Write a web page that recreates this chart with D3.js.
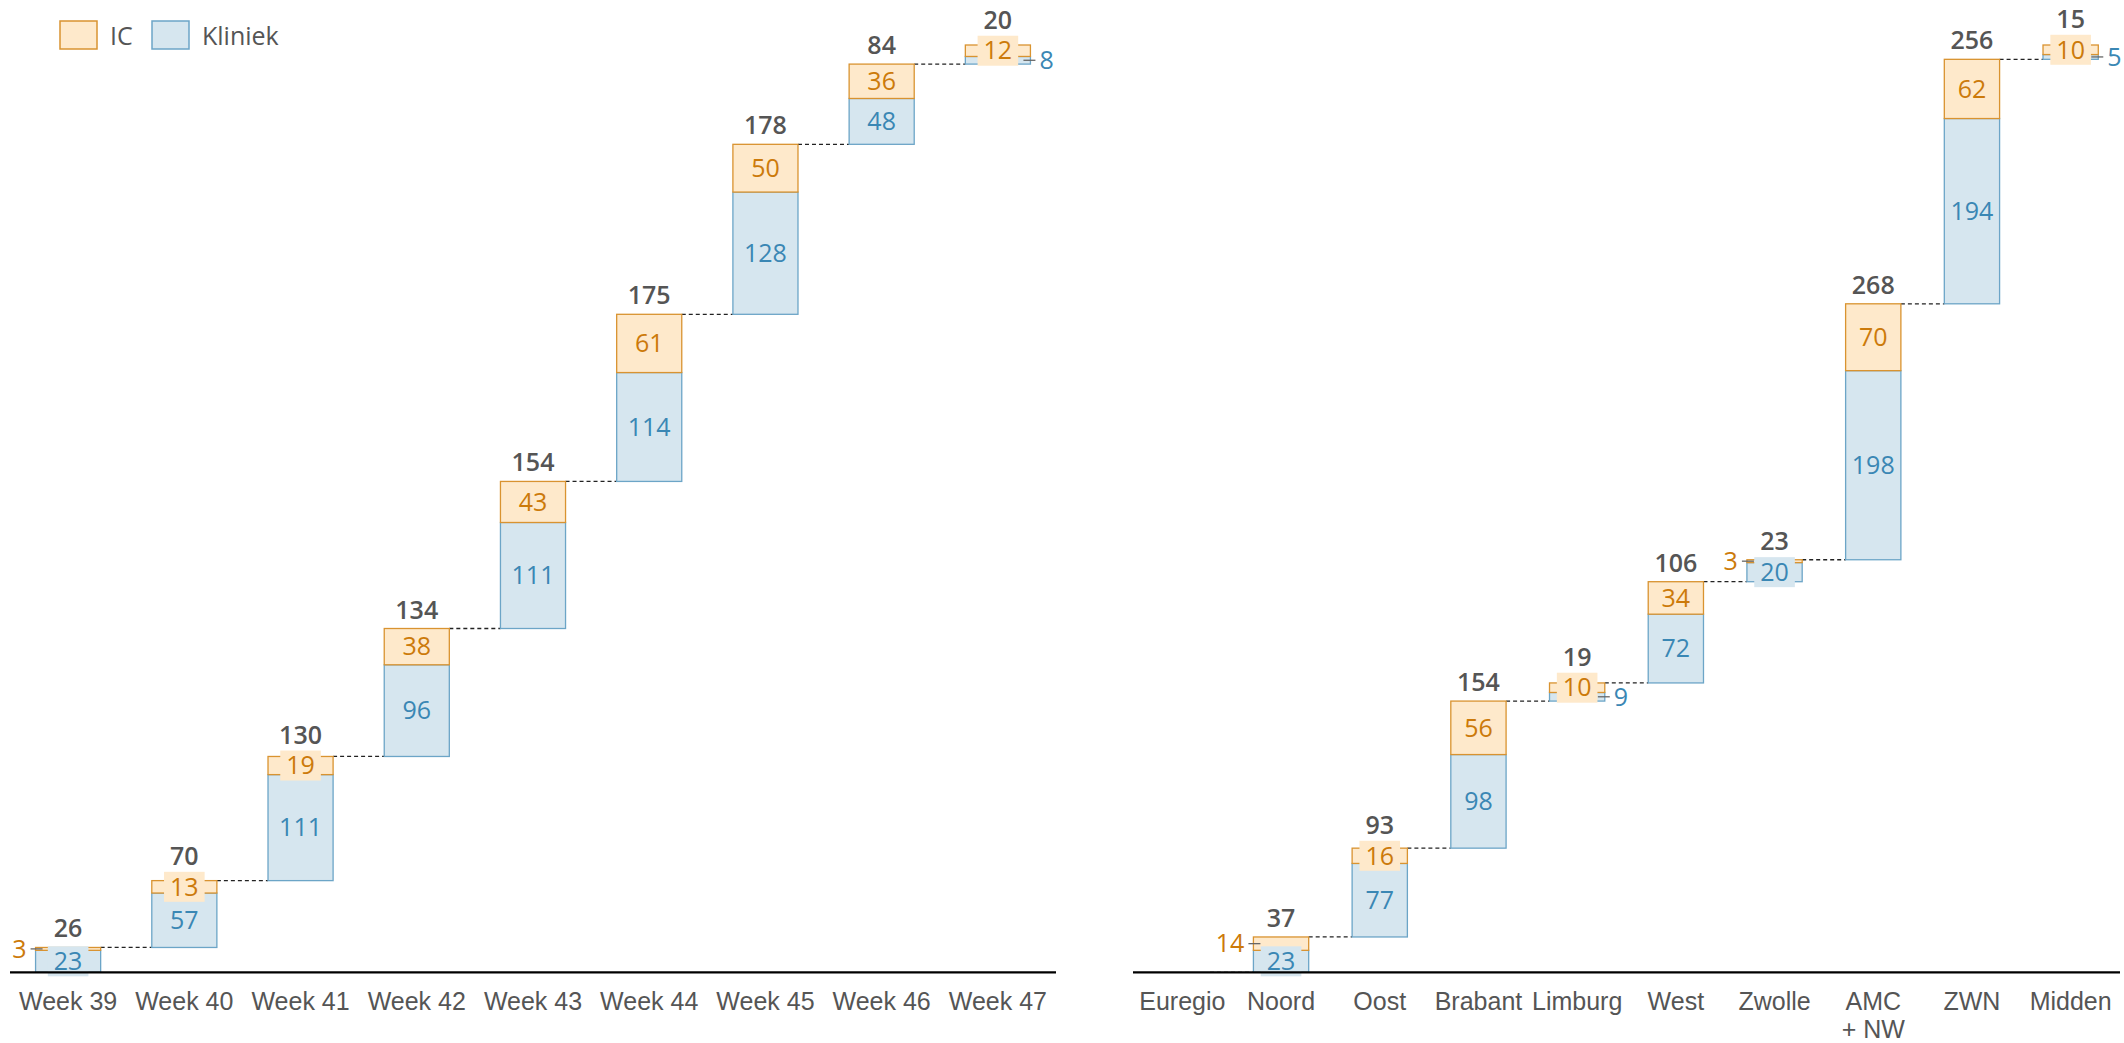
<!DOCTYPE html>
<html>
<head>
<meta charset="utf-8">
<script src="https://cdn.jsdelivr.net/npm/d3@7"></script>
<style>
  html, body { margin: 0; padding: 0; background: #fff; }
  svg { display: block; font-family: "Open Sans", "Liberation Sans", sans-serif; }
</style>
</head>
<body>
<div class="svg-container"></div>
<script>
// ---- data ----
var weeks = ["Week 39", "Week 40", "Week 41", "Week 42", "Week 43", "Week 44", "Week 45", "Week 46", "Week 47"];
var weekKliniek = [23, 57, 111, 96, 111, 114, 128, 48, 8];
var weekIC = [3, 13, 19, 38, 43, 61, 50, 36, 12];

var regions = ["Euregio", "Noord", "Oost", "Brabant", "Limburg", "West", "Zwolle", "AMC\n+ NW", "ZWN", "Midden"];
var regionKliniek = [0, 23, 77, 98, 9, 72, 20, 198, 194, 5];
var regionIC = [0, 14, 16, 56, 10, 34, 3, 70, 62, 10];

var legendItems = ["IC", "Kliniek"];

// ---- styles ----
var W = 2124, H = 1043;
var axisY = 972.3;
var col = {
    icFill: "#fee9cb", icStroke: "#d99330", icText: "#cc7a0a",
    klFill: "#d6e6ef", klStroke: "#6ca5c7", klText: "#3a87b4",
    total: "#555", tick: "#555"
};
var fontSize = 25;
var smallPx = 26;

var svg = d3.select(".svg-container").append("svg")
    .attr("width", W)
    .attr("height", H);

// cumulative starts
function cumulate(kl, ic) {
    var run = 0;
    return kl.map(function(k, i) {
        var s = run;
        run += k + ic[i];
        return { start: s, kl: k, ic: ic[i], end: run };
    });
}

var weekRows = cumulate(weekKliniek, weekIC);
var regionRows = cumulate(regionKliniek, regionIC);
var yMax = Math.max(weekRows[weekRows.length - 1].end, regionRows[regionRows.length - 1].end);

var y = d3.scaleLinear().domain([0, yMax]).range([axisY, 45]);

function drawPanel(cats, rows, x0, x1) {
    var x = d3.scaleBand().domain(cats).range([x0, x1])
        .paddingInner(0.44).paddingOuter(0.22);
    var g = svg.append("g");
    rows.forEach(function(r, i) { r.cat = cats[i]; });

    // connectors
    g.selectAll("line.conn").data(rows.slice(1)).enter().append("line")
        .attr("class", "conn")
        .attr("x1", function(d, i) { return x(rows[i].cat) + x.bandwidth(); })
        .attr("x2", function(d) { return x(d.cat); })
        .attr("y1", function(d) { return y(d.start); })
        .attr("y2", function(d) { return y(d.start); })
        .attr("stroke", "#222").attr("stroke-width", 1.3)
        .attr("stroke-dasharray", "4,3");

    // bars
    var bars = g.selectAll("g.bar").data(rows).enter().append("g").attr("class", "bar");
    bars.filter(function(d) { return d.kl > 0; }).append("rect")
        .attr("x", function(d) { return x(d.cat); })
        .attr("width", x.bandwidth())
        .attr("y", function(d) { return y(d.start + d.kl); })
        .attr("height", function(d) { return y(d.start) - y(d.start + d.kl); })
        .attr("fill", col.klFill).attr("stroke", col.klStroke).attr("stroke-width", 1.3);
    bars.filter(function(d) { return d.ic > 0; }).append("rect")
        .attr("x", function(d) { return x(d.cat); })
        .attr("width", x.bandwidth())
        .attr("y", function(d) { return y(d.end); })
        .attr("height", function(d) { return y(d.start + d.kl) - y(d.end); })
        .attr("fill", col.icFill).attr("stroke", col.icStroke).attr("stroke-width", 1.3);

    // segment labels
    rows.forEach(function(d) {
        if (d.end === d.start) return;
        var left = x(d.cat), right = left + x.bandwidth(), cx = left + x.bandwidth() / 2;
        var hK = y(d.start) - y(d.start + d.kl);
        var hI = y(d.start + d.kl) - y(d.end);
        var segs = [
            { v: d.kl, h: hK, cy: y(d.start + d.kl / 2), fill: col.klFill, color: col.klText, side: "right" },
            { v: d.ic, h: hI, cy: y(d.start + d.kl + d.ic / 2), fill: col.icFill, color: col.icText, side: "left" }
        ];
        segs.forEach(function(s) { s.mode = s.h < smallPx ? "box" : "plain"; });
        if (segs[0].h < smallPx && segs[1].h < smallPx) {
            if (d.kl >= d.ic) segs[1].mode = "out"; else segs[0].mode = "out";
        }
        var boxTop = Infinity;
        segs.forEach(function(s) {
            if (s.mode === "out") {
                var sx = s.side === "left" ? left : right;
                var dir = s.side === "left" ? -1 : 1;
                g.append("line")
                    .attr("x1", sx + dir * 5).attr("x2", sx - dir * 7)
                    .attr("y1", s.cy).attr("y2", s.cy)
                    .attr("stroke", "#666").attr("stroke-width", 1.3);
                g.append("text")
                    .attr("x", sx + dir * 9).attr("y", s.cy).attr("dy", "0.35em")
                    .attr("text-anchor", s.side === "left" ? "end" : "start")
                    .attr("font-size", fontSize).attr("fill", s.color)
                    .text(s.v);
                return;
            }
            var bg = g.append("rect");
            var t = g.append("text")
                .attr("x", cx).attr("y", s.cy).attr("dy", "0.35em")
                .attr("text-anchor", "middle")
                .attr("font-size", fontSize).attr("fill", s.color)
                .text(s.v);
            if (s.mode === "box") {
                var tw = t.node().getComputedTextLength();
                bg.attr("x", cx - tw / 2 - 6).attr("width", tw + 12)
                    .attr("y", s.cy - 15).attr("height", 30)
                    .attr("fill", s.fill);
                boxTop = Math.min(boxTop, s.cy - 15);
            } else {
                bg.remove();
            }
        });
        // total
        g.append("text")
            .attr("x", cx)
            .attr("y", Math.min(y(d.end) - 10, boxTop - 7))
            .attr("text-anchor", "middle")
            .attr("font-size", fontSize).attr("font-weight", 600)
            .attr("fill", col.total)
            .text(d.end - d.start);
    });

    // axis
    var axis = g.append("g")
        .attr("transform", "translate(0," + axisY + ")")
        .call(d3.axisBottom(x).tickSize(0).tickPadding(0));
    axis.select(".domain").attr("stroke", "#000").attr("stroke-width", 2.2)
        .attr("d", "M" + x0 + ",0H" + x1);
    axis.selectAll(".tick text").remove();
    axis.selectAll(".tick").append("text")
        .attr("font-size", fontSize).attr("fill", col.tick)
        .attr("text-anchor", "middle")
        .each(function(d) {
            var t = d3.select(this);
            d.split("\n").forEach(function(line, k) {
                t.append("tspan").attr("x", 0).attr("y", 38 + k * 28).text(line);
            });
        });
}

drawPanel(weeks, weekRows, 10, 1056);
drawPanel(regions, regionRows, 1133, 2120);

// legend
var leg = svg.append("g").selectAll("g").data(legendItems).enter().append("g")
    .attr("transform", function(d, i) { return "translate(" + (60 + i * 92) + ",21)"; });
leg.append("rect").attr("width", 37).attr("height", 28)
    .attr("fill", function(d) { return d === "IC" ? col.icFill : col.klFill; })
    .attr("stroke", function(d) { return d === "IC" ? col.icStroke : col.klStroke; })
    .attr("stroke-width", 1.5);
leg.append("text").attr("x", 50).attr("y", 24)
    .attr("font-size", fontSize).attr("fill", col.tick)
    .text(function(d) { return d; });
</script>
</body>
</html>
